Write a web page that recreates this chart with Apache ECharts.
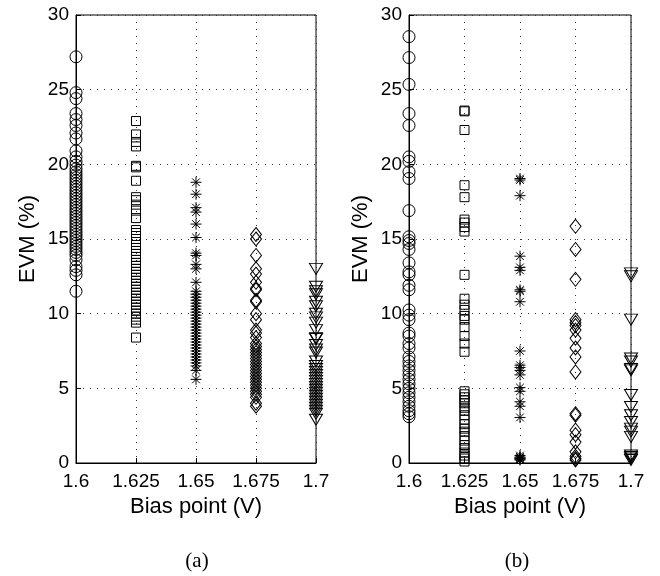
<!DOCTYPE html>
<html><head><meta charset="utf-8">
<script src="https://cdn.jsdelivr.net/npm/echarts@6/dist/echarts.min.js"></script>
<style>html,body{margin:0;padding:0;background:#fff}#c{width:660px;height:576px}</style>
</head><body><div id="c"></div>
<script>
// Bias points (x categories) and tick labels
const biasPoints = [1.6, 1.625, 1.65, 1.675, 1.7];
const xTickLabels = ['1.6', '1.625', '1.65', '1.675', '1.7'];
const yTickLabels = ['0', '5', '10', '15', '20', '25', '30'];
const panelTitles = ['(a)', '(b)'];

// Panel (a) EVM values (%)
const a_160 = [27.2, 24.8, 24.4, 23.4, 23.0, 22.6, 22.1, 21.7, 20.9, 20.5, 20.2, 19.95, 19.7, 19.5, 19.3, 19.1, 18.9, 18.7, 18.5, 18.3, 18.1, 17.9, 17.7, 17.5, 17.3, 17.1, 16.9, 16.7, 16.5, 16.3, 16.1, 15.9, 15.7, 15.5, 15.3, 15.1, 14.9, 14.7, 14.5, 14.3, 14.1, 13.9, 13.6, 13.15, 12.9, 12.6, 11.5];
const a_1625 = [22.9, 22.0, 21.5, 21.2, 19.9, 19.8, 18.9, 17.8, 17.6, 17.3, 16.9, 16.4, 15.6, 15.4, 15.2, 15.0, 14.8, 14.6, 14.4, 14.2, 14.0, 13.8, 13.6, 13.4, 13.2, 13.0, 12.8, 12.6, 12.4, 12.2, 12.0, 11.8, 11.6, 11.4, 11.2, 11.0, 10.8, 10.6, 10.4, 10.2, 10.0, 9.8, 9.6, 9.4, 8.4];
const a_165 = [18.8, 18.0, 17.1, 16.8, 16.0, 15.1, 14.05, 13.9, 13.3, 13.0, 12.1, 11.5, 11.3, 11.1, 10.9, 10.7, 10.5, 10.3, 10.1, 9.9, 9.7, 9.5, 9.3, 9.1, 8.9, 8.7, 8.5, 8.3, 8.1, 7.9, 7.7, 7.5, 7.3, 7.1, 6.9, 6.7, 6.5, 6.2, 5.6];
const a_1675 = [15.3, 15.0, 13.9, 13.0, 12.65, 12.1, 11.7, 11.6, 10.9, 10.8, 10.0, 9.6, 8.9, 8.7, 8.4, 8.0, 7.8, 7.6, 7.4, 7.2, 7.0, 6.8, 6.6, 6.4, 6.2, 6.0, 5.8, 5.6, 5.4, 5.2, 5.0, 4.8, 4.6, 4.4, 4.0, 3.8];
const a_170 = [13.0, 11.8, 11.5, 11.3, 10.8, 10.5, 10.0, 9.75, 9.4, 8.9, 8.35, 8.3, 7.9, 7.6, 7.4, 6.8, 6.5, 6.3, 6.1, 5.9, 5.7, 5.5, 5.3, 5.1, 4.9, 4.7, 4.5, 4.3, 4.1, 3.9, 3.7, 3.5, 3.3, 2.9];

// Panel (b) EVM values (%)
const b_160 = [28.55, 27.15, 25.35, 23.4, 22.6, 20.5, 20.2, 19.5, 19.05, 16.9, 15.15, 14.9, 14.7, 14.3, 13.4, 12.8, 12.6, 11.9, 11.6, 10.25, 9.9, 9.6, 8.7, 8.5, 8.0, 7.7, 7.1, 6.8, 6.5, 6.2, 5.9, 5.6, 5.3, 5.0, 4.7, 4.4, 4.1, 3.8, 3.5, 3.3, 3.1];
const b_1625 = [23.6, 23.55, 22.3, 18.6, 17.8, 16.3, 16.1, 15.8, 15.5, 12.6, 11.0, 10.6, 10.25, 9.85, 9.6, 9.1, 8.5, 8.0, 7.45, 4.8, 4.6, 4.4, 4.2, 4.0, 3.7, 3.5, 3.2, 2.9, 2.6, 2.3, 2.1, 1.8, 1.5, 1.2, 1.0, 0.7, 0.5, 0.3, 0.1];
const b_165 = [19.05, 18.95, 17.9, 13.85, 13.1, 12.9, 11.6, 11.5, 10.8, 7.5, 6.55, 6.4, 6.2, 5.9, 5.05, 4.8, 4.1, 3.8, 3.05, 0.5, 0.4, 0.35, 0.3, 0.25, 0.2];
const b_1675 = [15.85, 14.3, 12.3, 9.6, 9.4, 9.2, 8.9, 8.35, 7.7, 7.1, 6.1, 3.3, 3.2, 2.2, 1.9, 1.4, 0.75, 0.45, 0.3, 0.2];
const b_170 = [12.7, 12.5, 9.6, 7.0, 6.8, 6.3, 6.2, 4.55, 3.75, 3.2, 2.75, 2.3, 2.1, 1.75, 0.5, 0.4, 0.3, 0.2];

const panelA = [a_160, a_1625, a_165, a_1675, a_170];
const panelB = [b_160, b_1625, b_165, b_1675, b_170];

const asterisk = 'path://M0,5L10,5M5,0L5,10M1.5,1.5L8.5,8.5M1.5,8.5L8.5,1.5';
const markers = [
  {symbol: 'circle', size: 12, rotate: 0},
  {symbol: 'rect', size: 9, rotate: 0},
  {symbol: asterisk, size: 11, rotate: 0},
  {symbol: 'diamond', size: [11, 14], rotate: 0},
  {symbol: 'triangle', size: [13, 11], rotate: 180}
];

const FONT = 'Liberation Sans';
function xAxisFor(gi) {
  return {
    gridIndex: gi, type: 'value', min: 1.6, max: 1.7, interval: 0.025,
    name: 'Bias point (V)', nameLocation: 'middle', nameGap: 33,
    nameTextStyle: {fontFamily: FONT, fontSize: 22, color: '#000'},
    axisLine: {lineStyle: {color: '#000', width: 1}},
    axisTick: {inside: true, length: 5, lineStyle: {color: '#000'}},
    axisLabel: {fontFamily: FONT, fontSize: 19, color: '#000', margin: 9,
      formatter: v => xTickLabels[Math.round((v - 1.6) / 0.025)]},
    splitLine: {show: true, lineStyle: {color: '#333', type: [1, 6], width: 1}}
  };
}
function yAxisFor(gi) {
  return {
    gridIndex: gi, type: 'value', min: 0, max: 30, interval: 5,
    name: 'EVM (%)', nameLocation: 'middle', nameGap: 37,
    nameTextStyle: {fontFamily: FONT, fontSize: 22, color: '#000'},
    axisLine: {show: true, lineStyle: {color: '#000', width: 1}},
    axisTick: {show: true, inside: true, length: 5, lineStyle: {color: '#000'}},
    axisLabel: {fontFamily: FONT, fontSize: 19, color: '#000', margin: 7,
      formatter: v => yTickLabels[Math.round(v / 5)]},
    splitLine: {show: true, lineStyle: {color: '#333', type: [1, 6], width: 1}}
  };
}

const series = [];
[panelA, panelB].forEach((panel, gi) => {
  panel.forEach((vals, k) => {
    const m = markers[k];
    series.push({
      type: 'scatter', xAxisIndex: gi, yAxisIndex: gi, clip: false,
      symbol: m.symbol, symbolSize: m.size, symbolRotate: m.rotate,
      itemStyle: {color: 'none', borderColor: '#000', borderWidth: 1, opacity: 1},
      emphasis: {disabled: true},
      data: vals.map(v => [biasPoints[k], v])
    });
  });
});

const chart = echarts.init(document.getElementById('c'), null, {renderer: 'canvas'});
chart.setOption({
  animation: false,
  backgroundColor: '#fff',
  grid: [
    {left: 76, right: 344, top: 15, bottom: 113, show: true, borderColor: '#000', borderWidth: 1, backgroundColor: 'transparent'},
    {left: 409, right: 29, top: 15, bottom: 113, show: true, borderColor: '#000', borderWidth: 1, backgroundColor: 'transparent'}
  ],
  xAxis: [xAxisFor(0), xAxisFor(1)],
  yAxis: [yAxisFor(0), yAxisFor(1)],
  graphic: [
    {type: 'text', x: 197, y: 561, style: {text: panelTitles[0], font: '21px "Liberation Serif"', fill: '#000', textAlign: 'center', textVerticalAlign: 'middle'}},
    {type: 'text', x: 517, y: 561, style: {text: panelTitles[1], font: '21px "Liberation Serif"', fill: '#000', textAlign: 'center', textVerticalAlign: 'middle'}}
  ],
  series: series
});
</script>
</body></html>
